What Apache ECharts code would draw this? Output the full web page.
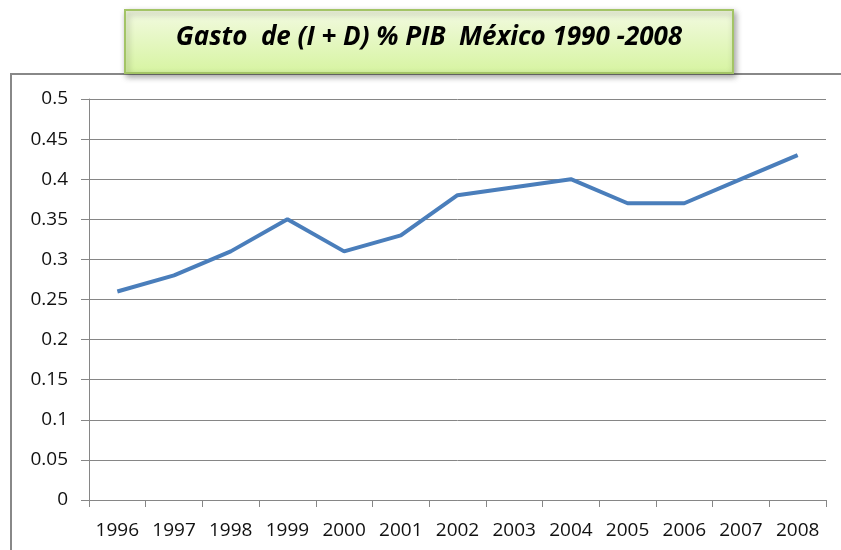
<!DOCTYPE html>
<html>
<head>
<meta charset="utf-8">
<title>Gasto de (I + D) % PIB México</title>
<script src="https://cdn.jsdelivr.net/npm/echarts@6/dist/echarts.min.js"></script>
<style>
  html, body { margin: 0; padding: 0; background: #fff; }
  #chart { width: 841px; height: 550px; }
</style>
</head>
<body>
<div id="chart"></div>
<script>
const years = ["1996", "1997", "1998", "1999", "2000", "2001", "2002",
  "2003", "2004", "2005", "2006", "2007", "2008"];
const gastoPib = [0.26, 0.28, 0.31, 0.35, 0.31, 0.33, 0.38,
  0.39, 0.40, 0.37, 0.37, 0.40, 0.43];
const titleText = "Gasto  de (I + D) % PIB  México 1990 -2008";

const chart = echarts.init(document.getElementById("chart"));

const option = {
  animation: false,
  backgroundColor: "#ffffff",
  textStyle: { fontFamily: "Open Sans" },
  grid: { left: 89, right: 15, top: 99, bottom: 50 },
  graphic: [
    {
      // outer chart frame, right and bottom run off the picture
      type: "rect",
      z: 0,
      shape: { x: 11, y: 74, width: 860, height: 500 },
      style: { fill: "none", stroke: "#888888", lineWidth: 2 }
    },
    {
      type: "rect",
      z: 10,
      shape: { x: 125, y: 10, width: 608, height: 63 },
      style: {
        fill: {
          type: "linear", x: 0, y: 0, x2: 0, y2: 1,
          colorStops: [
            { offset: 0, color: "#f3fae2" },
            { offset: 1, color: "#d6f4a0" }
          ]
        },
        stroke: "#a3c466",
        lineWidth: 2,
        shadowBlur: 6,
        shadowOffsetX: 2,
        shadowOffsetY: 3,
        shadowColor: "rgba(0,0,0,0.35)"
      }
    },
    {
      type: "text",
      z: 11,
      x: 429,
      y: 38,
      style: {
        text: titleText,
        fill: "#000000",
        font: "italic bold 26px 'Open Sans'",
        align: "center",
        verticalAlign: "middle"
      }
    }
  ],
  xAxis: {
    type: "category",
    data: years,
    boundaryGap: true,
    axisLine: { lineStyle: { color: "#868686", width: 1 } },
    axisTick: { show: true, length: 7, lineStyle: { color: "#868686" } },
    axisLabel: { color: "#111111", fontSize: 19, margin: 21, interval: 0, hideOverlap: false }
  },
  yAxis: {
    type: "value",
    min: 0,
    max: 0.5,
    interval: 0.05,
    axisLine: { show: true, lineStyle: { color: "#868686", width: 1 } },
    axisTick: { show: true, length: 8, lineStyle: { color: "#868686" } },
    axisLabel: {
      color: "#111111",
      fontSize: 19,
      margin: 21,
      formatter: (v) => String(+v.toFixed(2))
    },
    splitLine: { lineStyle: { color: "#868686", width: 1 } }
  },
  series: [
    {
      type: "line",
      data: gastoPib,
      symbol: "none",
      smooth: false,
      lineStyle: { color: "#4a7ebb", width: 4 }
    }
  ]
};

chart.setOption(option);
</script>
</body>
</html>
